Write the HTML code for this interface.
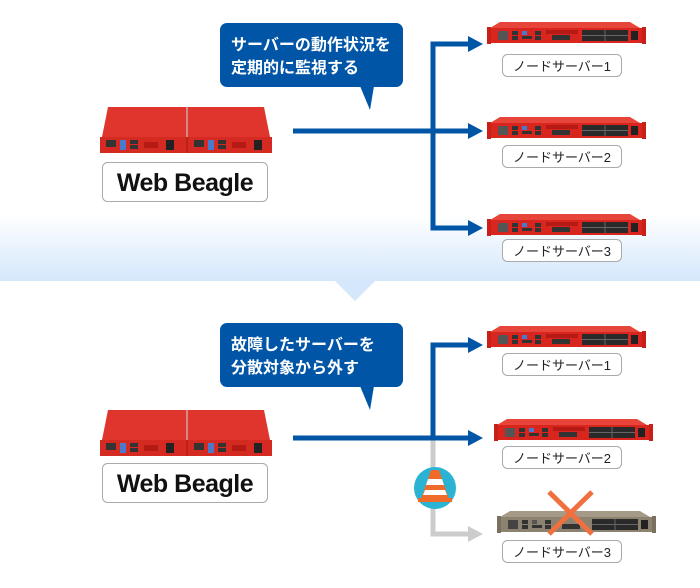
<!DOCTYPE html>
<html><head><meta charset="utf-8"><style>
html,body{margin:0;padding:0;background:#fff}
svg{display:block}
text{font-family:"Liberation Sans","Noto Sans CJK JP",sans-serif}
</style></head><body>
<svg width="700" height="588" viewBox="0 0 700 588" xmlns="http://www.w3.org/2000/svg">
<defs>
<linearGradient id="bg" x1="0" y1="0" x2="0" y2="1">
<stop offset="0" stop-color="#ffffff"/><stop offset="1" stop-color="#d4e7fb"/>
</linearGradient>
<g id="node">
 <polygon points="10,0 140,0 150,6 0,6" fill="#e8453a"/>
 <rect x="0" y="6" width="153" height="15" fill="#d8261f"/>
 <rect x="-3" y="5" width="4" height="17" fill="#c81f18"/>
 <rect x="152" y="5" width="4" height="17" fill="#c81f18"/>
 <rect x="8" y="9" width="10" height="9" fill="#555"/>
 <rect x="22" y="9" width="6" height="4" fill="#333"/><rect x="22" y="14" width="6" height="4" fill="#333"/>
 <rect x="32" y="9" width="5" height="4" fill="#4a7acc"/><rect x="32" y="14" width="10" height="3" fill="#333"/>
 <rect x="45" y="9" width="6" height="4" fill="#333"/><rect x="45" y="14" width="6" height="4" fill="#333"/>
 <rect x="56" y="8" width="32" height="4" fill="#b51a14"/><rect x="62" y="13" width="18" height="5" fill="#333"/>
 <rect x="92" y="8" width="46" height="11" fill="#2a2a2a"/>
 <line x1="115" y1="8" x2="115" y2="19" stroke="#666" stroke-width="1"/>
 <line x1="92" y1="13.5" x2="138" y2="13.5" stroke="#666" stroke-width="1"/>
 <rect x="141" y="9" width="7" height="9" fill="#222"/>
</g>
<g id="gnode">
 <polygon points="10,0 140,0 150,6 0,6" fill="#a59a88"/>
 <rect x="0" y="6" width="153" height="15" fill="#8c8270"/>
 <rect x="-3" y="5" width="4" height="17" fill="#7a705f"/>
 <rect x="152" y="5" width="4" height="17" fill="#7a705f"/>
 <rect x="8" y="9" width="10" height="9" fill="#444"/>
 <rect x="22" y="9" width="6" height="4" fill="#333"/><rect x="22" y="14" width="6" height="4" fill="#333"/>
 <rect x="32" y="9" width="5" height="4" fill="#555"/><rect x="32" y="14" width="10" height="3" fill="#333"/>
 <rect x="45" y="9" width="6" height="4" fill="#333"/><rect x="45" y="14" width="6" height="4" fill="#333"/>
 <rect x="62" y="13" width="18" height="5" fill="#333"/>
 <rect x="92" y="8" width="46" height="11" fill="#2a2a2a"/>
 <line x1="115" y1="8" x2="115" y2="19" stroke="#666" stroke-width="1"/>
 <line x1="92" y1="13.5" x2="138" y2="13.5" stroke="#666" stroke-width="1"/>
 <rect x="141" y="9" width="7" height="9" fill="#222"/>
</g>
<g id="main">
 <polygon points="8,0 86,0 86,30 2,30" fill="#e0352c"/>
 <polygon points="88,0 164,0 170,30 88,30" fill="#e0352c"/>
 <rect x="0" y="30" width="172" height="16" fill="#d42a22"/>
 <line x1="87" y1="0" x2="87" y2="46" stroke="#a31812" stroke-width="1"/>
 <rect x="6" y="33" width="10" height="7" fill="#333"/><rect x="20" y="33" width="6" height="10" fill="#4a7acc"/>
 <rect x="30" y="33" width="8" height="4" fill="#333"/><rect x="30" y="38" width="8" height="4" fill="#333"/>
 <rect x="44" y="35" width="14" height="6" fill="#b51a14"/><rect x="66" y="33" width="8" height="10" fill="#222"/>
 <rect x="94" y="33" width="10" height="7" fill="#333"/><rect x="108" y="33" width="6" height="10" fill="#4a7acc"/>
 <rect x="118" y="33" width="8" height="4" fill="#333"/><rect x="118" y="38" width="8" height="4" fill="#333"/>
 <rect x="132" y="35" width="14" height="6" fill="#b51a14"/><rect x="154" y="33" width="8" height="10" fill="#222"/>
</g>
<g id="lbl"><rect x="0.5" y="0.5" width="119" height="22" rx="5" fill="#fff" stroke="#aaa"/></g>
<g id="wb"><rect x="0.5" y="0.5" width="165" height="39" rx="5" fill="#fff" stroke="#aaa"/>
<text x="83" y="29" text-anchor="middle" font-size="25" font-weight="bold" fill="#111" letter-spacing="-0.5">Web Beagle</text></g>
</defs>

<rect x="0" y="215" width="700" height="66" fill="url(#bg)"/>
<polygon points="334,280 376,280 355,301" fill="#d4e7fb"/>

<!-- top section -->
<rect x="220" y="23" width="183" height="64" rx="7" fill="#0055a6"/>
<polygon points="360,86 374,86 370,110" fill="#0055a6"/>
<text x="231" y="50" font-size="16" font-weight="bold" fill="#fff">サーバーの動作状況を</text>
<text x="231" y="73" font-size="16" font-weight="bold" fill="#fff">定期的に監視する</text>
<use href="#main" x="100" y="107"/>
<use href="#wb" x="102" y="162"/>
<g stroke="#0055a6" stroke-width="5" fill="none">
<line x1="293" y1="131" x2="433" y2="131"/>
<polyline points="470,44 433,44 433,228 470,228"/>
<line x1="433" y1="131" x2="470" y2="131"/>
</g>
<g fill="#0055a6">
<polygon points="468,36 483,44 468,52"/><polygon points="468,123 483,131 468,139"/><polygon points="468,220 483,228 468,236"/>
</g>
<use href="#node" x="490" y="22"/>
<use href="#lbl" x="502" y="54"/><text x="562" y="71" text-anchor="middle" font-size="13" fill="#222">ノードサーバー1</text>
<use href="#node" x="490" y="117"/>
<use href="#lbl" x="502" y="145"/><text x="562" y="162" text-anchor="middle" font-size="13" fill="#222">ノードサーバー2</text>
<use href="#node" x="490" y="214"/>
<use href="#lbl" x="502" y="239"/><text x="562" y="256" text-anchor="middle" font-size="13" fill="#222">ノードサーバー3</text>

<!-- bottom section -->
<rect x="220" y="323" width="183" height="64" rx="7" fill="#0055a6"/>
<polygon points="360,386 374,386 370,410" fill="#0055a6"/>
<text x="231" y="350" font-size="16" font-weight="bold" fill="#fff">故障したサーバーを</text>
<text x="231" y="373" font-size="16" font-weight="bold" fill="#fff">分散対象から外す</text>
<use href="#main" x="100" y="410"/>
<use href="#wb" x="102" y="463"/>
<g stroke="#cccccc" stroke-width="5" fill="none"><polyline points="433,438 433,534 470,534"/></g>
<polygon points="468,526 483,534 468,542" fill="#cccccc"/>
<g stroke="#0055a6" stroke-width="5" fill="none">
<line x1="293" y1="438" x2="470" y2="438"/>
<polyline points="470,345 433,345 433,438"/>
</g>
<g fill="#0055a6"><polygon points="468,337 483,345 468,353"/><polygon points="468,430 483,438 468,446"/></g>
<circle cx="435" cy="488" r="21" fill="#2bb3d4"/>
<polygon points="431,470 439,470 449,499 421,499" fill="#f06a2a"/>
<polygon points="428,479 442,479 444,485 426,485" fill="#fff"/>
<polygon points="425,490 445,490 447,495 423,495" fill="#fff"/>
<rect x="418" y="498" width="34" height="4" fill="#f06a2a"/>
<use href="#node" x="490" y="326"/>
<use href="#lbl" x="502" y="353"/><text x="562" y="370" text-anchor="middle" font-size="13" fill="#222">ノードサーバー1</text>
<use href="#node" x="497" y="419"/>
<use href="#lbl" x="502" y="446"/><text x="562" y="463" text-anchor="middle" font-size="13" fill="#222">ノードサーバー2</text>
<use href="#gnode" x="500" y="511"/>
<g stroke="#f07040" stroke-width="5"><line x1="549" y1="492" x2="592" y2="534"/><line x1="592" y1="492" x2="549" y2="534"/></g>
<use href="#lbl" x="502" y="540"/><text x="562" y="557" text-anchor="middle" font-size="13" fill="#222">ノードサーバー3</text>
</svg>
</body></html>
